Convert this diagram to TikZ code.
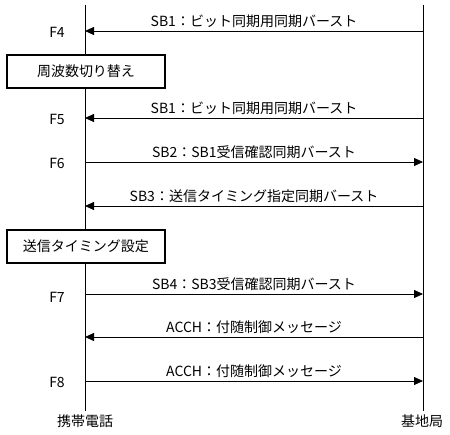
\documentclass[tikz,border=0pt]{standalone}
\usepackage{fontspec}
\setmainfont{Noto Sans CJK JP}
\usetikzlibrary{arrows.meta, positioning}

\begin{document}
\begin{tikzpicture}[
    x=1pt, y=-1pt,
    font=\fontsize{14}{16}\selectfont,
    life/.style={draw=black, line width=0.8pt},
    phase/.style={draw=black, line width=1.8pt, fill=white,
        minimum width=158pt, minimum height=33pt, inner sep=0pt},
    msg/.style={-{Triangle[length=9pt, width=8pt]}, line width=0.8pt, draw=black},
    lbl/.style={above, inner sep=2.5pt},
    step label/.style={inner sep=0pt}
]
\useasboundingbox (0,0) rectangle (450,435);

% Lifeline ends
\coordinate (mtop) at (85,5);
\coordinate (btop) at (423,5);
\node (phone) at (85,421) {携帯電話};
\node (base) at (422,421) {基地局};

% Lifelines
\draw[life] (mtop) -- (phone.north);
\draw[life] (btop) -- (btop |- phone.north);

% Message ends
\coordinate (m1) at (85,31);   \coordinate (b1) at (423,31);
\coordinate (m2) at (85,118);  \coordinate (b2) at (423,118);
\coordinate (m3) at (85,162);  \coordinate (b3) at (423,162);
\coordinate (m4) at (85,206);  \coordinate (b4) at (423,206);
\coordinate (m5) at (85,294);  \coordinate (b5) at (423,294);
\coordinate (m6) at (85,337);  \coordinate (b6) at (423,337);
\coordinate (m7) at (85,381);  \coordinate (b7) at (423,381);

% Phases
\node[phase] (freq) at (86,71.5) {周波数切り替え};
\node[phase] (timing) at (86,246.5) {送信タイミング設定};

% Step labels
\node[step label] (f4) at (57,32) {F4};
\node[step label] (f5) at (57,119) {F5};
\node[step label] (f6) at (57,163) {F6};
\node[step label] (f7) at (57,297) {F7};
\node[step label] (f8) at (57,382) {F8};

% Messages
\draw[msg] (b1) -- node[lbl] {SB1：ビット同期用同期バースト} (m1);
\draw[msg] (b2) -- node[lbl] {SB1：ビット同期用同期バースト} (m2);
\draw[msg] (m3) -- node[lbl] {SB2：SB1受信確認同期バースト} (b3);
\draw[msg] (b4) -- node[lbl] {SB3：送信タイミング指定同期バースト} (m4);
\draw[msg] (m5) -- node[lbl] {SB4：SB3受信確認同期バースト} (b5);
\draw[msg] (b6) -- node[lbl] {ACCH：付随制御メッセージ} (m6);
\draw[msg] (m7) -- node[lbl] {ACCH：付随制御メッセージ} (b7);

\end{tikzpicture}
\end{document}
